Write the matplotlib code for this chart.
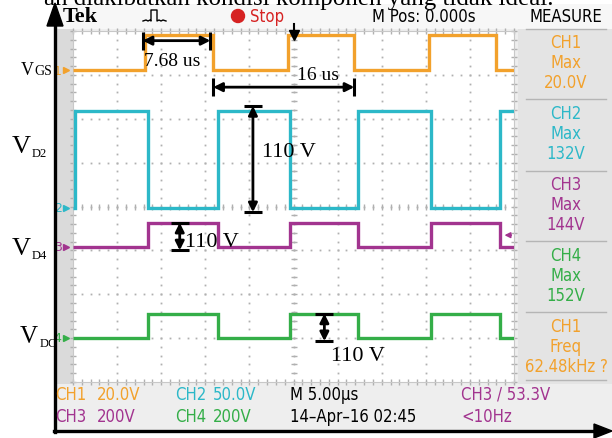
import matplotlib.pyplot as plt
from matplotlib import font_manager
from matplotlib.font_manager import FontProperties
from matplotlib.patches import Rectangle, Circle, Polygon

W, H = 612, 439

# scope settings
t_div = 5.0                       # us per division
ch_scale = [20.0, 50.0, 200.0, 200.0]   # V per division
ch_offset = [3.1, -0.03, -0.92, -2.99]  # marker position [div]
ch_color = ['#f2a12c', '#2cb8c8', '#a2348f', '#34ae48']

# switching instants [us] and levels [V] of each trace
vgs_edges = [0.0, 8.2, 15.9, 24.4, 31.9, 40.4, 48.0, 50.0]
vgs_levels = [0, 16, 0, 16, 0, 16, 0]
vd2_edges = [0.0, 0.2, 8.5, 16.4, 24.6, 32.3, 40.6, 48.4, 50.0]
vd2_levels = [0, 110, 0, 110, 0, 110, 0, 110]
vd4_edges = [0.0, 8.5, 16.4, 24.6, 32.3, 40.6, 48.4, 50.0]
vd4_levels = [0, 110, 0, 110, 0, 110, 0]
vdc_edges = [0.0, 8.5, 16.4, 24.6, 32.3, 40.6, 48.4, 50.0]
vdc_levels = [0, 110, 0, 110, 0, 110, 0]
trig_level = 53.3                 # CH3 trigger [V]

meas_ch = ['CH1', 'CH2', 'CH3', 'CH4', 'CH1']
meas_kind = ['Max', 'Max', 'Max', 'Max', 'Freq']
meas_val = ['20.0V', '132V', '144V', '152V', '62.48kHz ?']
meas_col = [0, 1, 2, 3, 0]

# narrow sans for the scope readouts, if one is around
narrow = [f for f in font_manager.fontManager.ttflist
          if ('Narrow' in f.name or 'Condensed' in f.name or f.stretch in ('condensed', 'semi-condensed'))
          and f.style == 'normal' and f.weight in (400, 'normal', 'regular')]
if narrow:
    sprop = dict(fontproperties=FontProperties(fname=narrow[0].fname, size=12))
else:
    sprop = dict(family='Roboto', fontsize=11)
serif = 'Liberation Serif'

fig = plt.figure(figsize=(W / 100, H / 100), dpi=100)

# background of the scope screen (pixel coordinates)
bg = fig.add_axes([0, 0, 1, 1])
bg.set_xlim(0, W)
bg.set_ylim(H, 0)
bg.axis('off')
bg.add_patch(Rectangle((55, 5), W - 55, 428, color='#eeeeee', lw=0))
bg.add_patch(Rectangle((55, 30), 18, 355, color='#dadada', lw=0))
bg.add_patch(Rectangle((518, 30), 94, 355, color='#e4e4e4', lw=0))
bg.add_patch(Rectangle((55, 5), W - 55, 25, color='#f7f7f7', lw=0))
bg.add_patch(Rectangle((73, 32), 441, 351, color='white', lw=0))
for ys in [30, 100, 172, 242, 313, 381]:
    bg.plot([526, 606], [ys, ys], color='#b5b5b5', lw=1)

# scope grid, one unit = one division on the y axis
ax = fig.add_axes([73 / W, 1 - 383 / H, 441 / W, 351 / H])
ax.set_xlim(0, 10 * t_div)
ax.set_ylim(-4, 4)
ax.axis('off')
ax.set_zorder(1)

gcol = '#b0b0b0'
minor_t = [i * t_div / 5 for i in range(51)]
minor_y = [-4 + i * 0.2 for i in range(41)]
for k in range(-3, 4):
    ax.plot(minor_t, [k] * len(minor_t), ls='none', marker='s', ms=1.3, color=gcol, mec='none')
for k in range(1, 10):
    ax.plot([k * t_div] * len(minor_y), minor_y, ls='none', marker='s', ms=1.3, color=gcol, mec='none')
ax.plot(minor_t, [0] * len(minor_t), ls='none', marker='|', ms=5, mew=1, color=gcol)
ax.plot([5 * t_div] * len(minor_y), minor_y, ls='none', marker='_', ms=5, mew=1, color=gcol)
for yb in (-4, 4):
    ax.plot(minor_t, [yb] * len(minor_t), ls='none', marker='|', ms=5, mew=1, color=gcol, clip_on=False)
for xb in (0, 50):
    ax.plot([xb] * len(minor_y), minor_y, ls='none', marker='_', ms=5, mew=1, color=gcol, clip_on=False)
ax.plot([0, 50, 50, 0, 0], [-4, -4, 4, 4, -4], color='#c8c8c8', lw=0.8, clip_on=False)

traces = [(vgs_edges, vgs_levels), (vd2_edges, vd2_levels),
          (vd4_edges, vd4_levels), (vdc_edges, vdc_levels)]
for i, (edges, levels) in enumerate(traces):
    vals = [ch_offset[i] + v / ch_scale[i] for v in levels]
    ax.stairs(vals, edges, baseline=None, color=ch_color[i], lw=2.4, zorder=3)
    ax.text(-1.3, ch_offset[i], str(i + 1), color=ch_color[i], fontsize=9,
            family='DejaVu Sans', ha='right', va='center', clip_on=False, zorder=8)
    ax.plot(-0.8, ch_offset[i], marker='>', ms=4, color=ch_color[i], clip_on=False)

# trigger level and trigger position markers
ax.annotate('', xy=(48.6, ch_offset[2] + trig_level / ch_scale[2]),
            xytext=(50.0, ch_offset[2] + trig_level / ch_scale[2]),
            arrowprops=dict(arrowstyle='-|>', color=ch_color[2], lw=1.2, mutation_scale=8),
            annotation_clip=False)
ax.plot(25.0, 3.9, marker='v', ms=7, color='k', clip_on=False, zorder=5)
ax.plot([25.0, 25.0], [3.9, 4.15], color='k', lw=1.5, clip_on=False, zorder=5)


def dim_arrow(a, b, horizontal):
    kw = dict(arrowstyle='<|-|>', color='k', lw=2, mutation_scale=13, shrinkA=0, shrinkB=0)
    ax.annotate('', xy=a, xytext=b, arrowprops=kw, annotation_clip=False, zorder=6)
    m = '|' if horizontal else '_'
    ax.plot([a[0], b[0]], [a[1], b[1]], ls='none', marker=m, ms=13, mew=2.2,
            color='k', clip_on=False, zorder=6)


ann = dict(color='k', family=serif, zorder=7, clip_on=False)
# pulse width and period
dim_arrow((7.9, 3.78), (7.9 + 7.68, 3.78), True)
ax.text(8.1, 3.33, '7.68 us', fontsize=14, ha='left', va='center', **ann)
dim_arrow((15.9, 2.72), (15.9 + 16.0, 2.72), True)
ax.text(25.4, 3.0, '16 us', fontsize=14, ha='left', va='center', **ann)
# 110 V steps
x2 = 20.4
dim_arrow((x2, ch_offset[1] + vd2_levels[1] / ch_scale[1] + 0.12),
          (x2, ch_offset[1] - 0.1), False)
ax.text(21.4, 1.26, '110 V', fontsize=16, ha='left', va='center', **ann)
x4 = 12.1
dim_arrow((x4, ch_offset[2] + vd4_levels[1] / ch_scale[2]), (x4, ch_offset[2] - 0.08), False)
ax.text(12.7, -0.8, '110 V', fontsize=16, ha='left', va='center', **ann)
xc = 28.5
dim_arrow((xc, ch_offset[3] + vdc_levels[1] / ch_scale[3]), (xc, ch_offset[3] - 0.08), False)
ax.text(29.2, -3.4, '110 V', fontsize=16, ha='left', va='center', **ann)

# overlay: header, status lines, measurements, labels and axes arrows
top = fig.add_axes([0, 0, 1, 1])
top.set_xlim(0, W)
top.set_ylim(H, 0)
top.axis('off')
top.set_zorder(3)

top.text(44, 5, 'an diakibatkan kondisi komponen yang tidak ideal.', fontsize=18,
         family=serif, va='baseline', ha='left')
top.text(63, 17, 'Tek', fontsize=16, family=serif, weight='bold', va='center', ha='left')
top.plot([143, 146, 148, 150, 151, 151, 157, 157, 159, 161, 163, 166],
         [22, 21, 22, 21, 22, 11, 11, 22, 21, 22, 21, 22], color='k', lw=1)
top.add_patch(Circle((238, 17), 6.5, color='#d62222'))
top.text(250, 17, 'Stop', color='#d62222', va='center', **sprop)
top.text(372, 17, 'M Pos: 0.000s', va='center', **sprop)
top.text(566, 17, 'MEASURE', va='center', ha='center', **sprop)

for i in range(len(meas_ch)):
    c = ch_color[meas_col[i]]
    y0 = 43 + 71 * i
    for j, s in enumerate([meas_ch[i], meas_kind[i], meas_val[i]]):
        top.text(566, y0 + 20 * j, s, color=c, ha='center', va='center', **sprop)

row1, row2 = 395, 417
status = [(55, row1, 'CH1', 0), (97, row1, '20.0V', 0),
          (175, row1, 'CH2', 1), (213, row1, '50.0V', 1),
          (290, row1, 'M 5.00\u00b5s', None), (461, row1, 'CH3 / 53.3V', 2),
          (55, row2, 'CH3', 2), (97, row2, '200V', 2),
          (175, row2, 'CH4', 3), (213, row2, '200V', 3),
          (290, row2, '14\u2013Apr\u201316 02:45', None), (461, row2, '<10Hz', 2)]
for xs, ys, s, c in status:
    top.text(xs, ys, s, color='k' if c is None else ch_color[c], va='center', **sprop)

# signal names
top.text(21, 75, 'V', fontsize=13, family=serif, va='baseline')
top.text(34, 75, 'GS', fontsize=10, family=serif, va='baseline')
for name, yb, xv, fs in [('D2', 153, 12, 19), ('D4', 255, 12, 19), ('DC', 343, 20, 18)]:
    top.text(xv, yb, 'V', fontsize=fs, family=serif, va='baseline')
    top.text(xv + 20, yb + 4, name, fontsize=9, family=serif, va='baseline')

# black axes arrows
top.plot([55, 55], [433, 20], color='k', lw=2.4)
top.add_patch(Polygon([[55, 4], [47, 27], [63, 27]], closed=True, color='k'))
top.plot([54, 596], [432, 432], color='k', lw=2.4)
top.add_patch(Polygon([[612, 432], [594, 425], [594, 439]], closed=True, color='k'))

fig.savefig('out.png', dpi=100)
